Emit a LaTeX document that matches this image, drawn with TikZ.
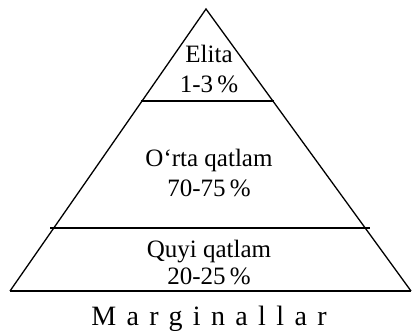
\documentclass[tikz,border=0pt]{standalone}
\usepackage{fontspec}
\setmainfont{Liberation Serif}
\usetikzlibrary{calc}

\begin{document}
\begin{tikzpicture}[x=1pt,y=-1pt]
    \tikzset{
        edge/.style={line width=1.3pt},
        divider/.style={line width=1.6pt},
        layer/.style={anchor=base, font=\fontsize{25}{30}\selectfont, inner sep=0pt},
        basetext/.style={anchor=base, font=\fontsize{28}{30}\selectfont\addfontfeature{LetterSpace=37}, inner sep=0pt}
    }
    \useasboundingbox (0,0) rectangle (413,331);

    % Csúcsok
    \coordinate (apex) at (206,9);
    \coordinate (bl) at (10,291);
    \coordinate (br) at (411,291);

    % Rétegek határai
    \coordinate (t1l) at (141,101);
    \coordinate (t1r) at (274,101);
    \coordinate (t2l) at (50,228);
    \coordinate (t2r) at (370,228);

    % Háromszög
    \draw[edge, line join=miter] (bl) -- (apex) -- (br);
    \draw[divider] (bl) -- (br);
    \draw[divider] (t1l) -- (t1r);
    \draw[divider] (t2l) -- (t2r);

    % Feliratok
    \node[layer] (elita) at (209,63) {Elita};
    \node[layer] (elitap) at (209,93) {1-3\,\%};
    \node[layer] (orta) at (209,167) {O‘rta qatlam};
    \node[layer] (ortap) at (209,197) {70-75\,\%};
    \node[layer] (quyi) at (209,258) {Quyi qatlam};
    \node[layer] (quyip) at (209,285) {20-25\,\%};
    \node[basetext] (marg) at (209,326) {Marginallar};
\end{tikzpicture}
\end{document}
